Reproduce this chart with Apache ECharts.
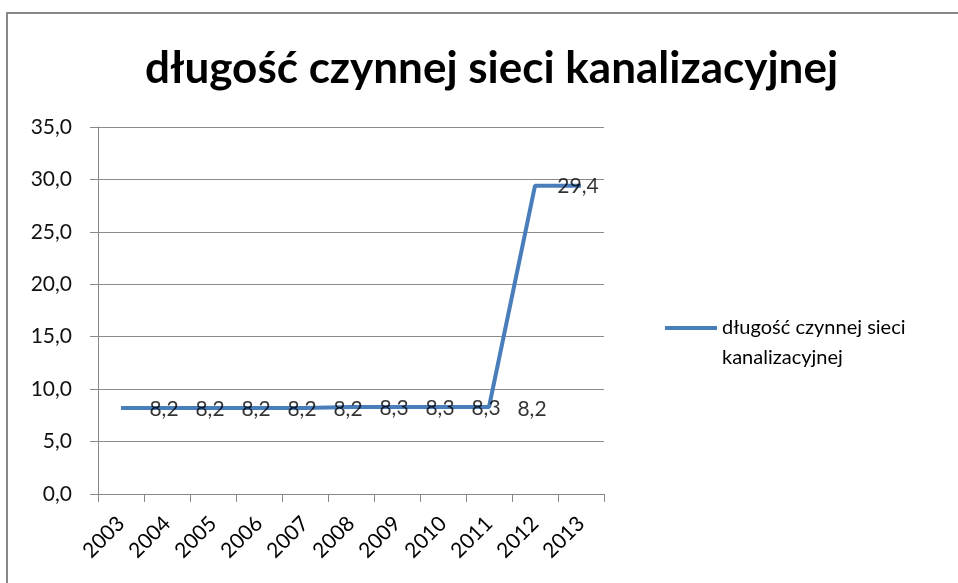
<!DOCTYPE html>
<html>
<head>
<meta charset="utf-8">
<script src="https://cdn.jsdelivr.net/npm/echarts@6/dist/echarts.min.js"></script>
<style>
html,body{margin:0;padding:0;background:#fff;}
#c{width:958px;height:583px;position:absolute;left:0;top:0;}
#frame{position:absolute;left:6px;top:12px;width:960px;height:580px;border:2px solid #878787;pointer-events:none;}
</style>
</head>
<body>
<div id="c"></div>
<div id="frame"></div>
<script>
const titleText = 'długość czynnej sieci kanalizacyjnej';
const seriesName = 'długość czynnej sieci kanalizacyjnej';
const years = ['2003','2004','2005','2006','2007','2008','2009','2010','2011','2012','2013'];
// line as drawn in the picture
const lineValues = [8.2, 8.2, 8.2, 8.2, 8.2, 8.3, 8.3, 8.3, 8.3, 29.4, 29.4];
// data labels as shown in the picture (none at 2003)
const labelValues = [null, 8.2, 8.2, 8.2, 8.2, 8.2, 8.3, 8.3, 8.3, 8.2, 29.4];
const yTicks = {min: 0, max: 35, interval: 5};

const fmt = v => v.toFixed(1).replace('.', ',');
const FONT = 'Lato';

const chart = echarts.init(document.getElementById('c'), null, {renderer: 'canvas'});
chart.setOption({
  animation: false,
  backgroundColor: '#fff',
  title: {
    text: titleText,
    left: 140,
    top: 42,
    textStyle: {fontFamily: FONT, fontWeight: 'bold', fontSize: 44, color: '#000'}
  },
  grid: {left: 98, right: 354, top: 127, bottom: 89, containLabel: false},
  legend: {
    data: [seriesName],
    left: 660,
    top: 278,
    orient: 'vertical',
    icon: 'rect',
    itemWidth: 52,
    itemHeight: 4,
    itemGap: 4,
    itemStyle: {color: '#4a7ebb'},
    formatter: () => ' \ndługość czynnej sieci\nkanalizacyjnej',
    textStyle: {fontFamily: FONT, fontSize: 20, color: '#000', lineHeight: 30}
  },
  xAxis: {
    type: 'category',
    data: years,
    boundaryGap: true,
    axisLine: {lineStyle: {color: '#888', width: 1}},
    axisTick: {show: true, length: 8, lineStyle: {color: '#888'}},
    axisLabel: {rotate: 45, fontFamily: FONT, fontSize: 21, color: '#000', margin: 26, interval: 0}
  },
  yAxis: {
    type: 'value',
    min: yTicks.min, max: yTicks.max, interval: yTicks.interval,
    axisLine: {show: true, lineStyle: {color: '#888', width: 1}},
    axisTick: {show: true, length: 8, lineStyle: {color: '#888'}},
    axisLabel: {fontFamily: FONT, fontSize: 21, color: '#111', margin: 26, formatter: v => fmt(v)},
    splitLine: {show: true, lineStyle: {color: '#8c8c8c', width: 1}}
  },
  series: [
    {
      name: seriesName,
      type: 'line',
      data: lineValues,
      symbol: 'none',
      lineStyle: {color: '#4a7ebb', width: 4},
      itemStyle: {color: '#4a7ebb'},
      z: 2
    },
    {
      name: 'labels',
      type: 'scatter',
      data: labelValues,
      symbolSize: 0,
      silent: true,
      label: {
        show: true,
        position: 'inside',
        offset: [-3, 1],
        fontFamily: FONT,
        fontSize: 21,
        color: '#000',
        formatter: p => p.value == null ? '' : fmt(p.value)
      },
      z: 3
    }
  ]
});
</script>
</body>
</html>
